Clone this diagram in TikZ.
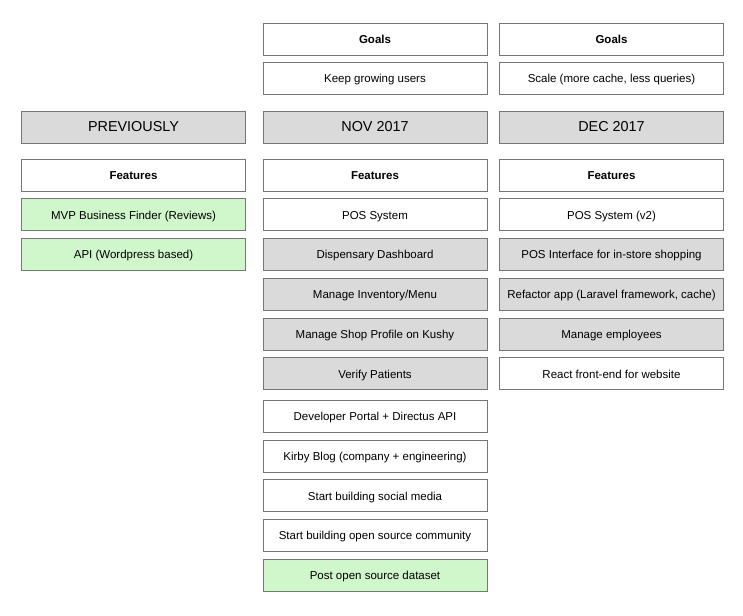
\documentclass[tikz,border=0pt]{standalone}
\usepackage{fontspec}
\setmainfont{Liberation Sans}
\usepackage{tikz}
\usetikzlibrary{positioning}
\definecolor{BoxGray}{RGB}{218,218,218}
\definecolor{BoxGreen}{RGB}{208,246,204}
\definecolor{EdgeGray}{RGB}{118,118,118}

\begin{document}
\begin{tikzpicture}[
    x=1pt, y=-1pt,
    item/.style={rectangle, minimum width=224pt, minimum height=32pt, inner sep=0pt, text height=0.88em, text depth=0em, draw=EdgeGray, line width=0.8pt, font=\fontsize{11.5}{13}\selectfont},
    heading/.style={item, font=\fontsize{11.5}{13}\selectfont\bfseries},
    period/.style={item, fill=BoxGray, font=\fontsize{14.4}{16}\selectfont},
    wip/.style={item, fill=BoxGray},
    done/.style={item, fill=BoxGreen}
]
\useasboundingbox (0,0) rectangle (743,615);

% Goals (top of the two dated columns)
\node[heading] (goalsNov) at (375, 39) {Goals};
\node[heading] (goalsDec) at (611.5, 39) {Goals};
\node[item] (goalNov) at (375, 78.5) {Keep growing users};
\node[item] (goalDec) at (611.5, 78.5) {Scale (more cache, less queries)};

% Periods
\node[period] (prev) at (133.5, 127) {PREVIOUSLY};
\node[period] (nov) at (375, 127) {NOV 2017};
\node[period] (dec) at (611.5, 127) {DEC 2017};

% Feature headings
\node[heading] (featPrev) at (133.5, 175) {Features};
\node[heading] (featNov) at (375, 175) {Features};
\node[heading] (featDec) at (611.5, 175) {Features};

% Previously
\node[done] (prevA) at (133.5, 214.8) {MVP Business Finder (Reviews)};
\node[done] (prevB) at (133.5, 254.5) {API (Wordpress based)};

% Nov 2017
\node[item] (novA) at (375, 214.8) {POS System};
\node[wip] (novB) at (375, 254.5) {Dispensary Dashboard};
\node[wip] (novC) at (375, 294.2) {Manage Inventory/Menu};
\node[wip] (novD) at (375, 333.9) {Manage Shop Profile on Kushy};
\node[wip] (novE) at (375, 373.6) {Verify Patients};
\node[item] (novF) at (375, 416.2) {Developer Portal + Directus API};
\node[item] (novG) at (375, 455.9) {Kirby Blog (company + engineering)};
\node[item] (novH) at (375, 495.6) {Start building social media};
\node[item] (novI) at (375, 535.3) {Start building open source community};
\node[done] (novJ) at (375, 575) {Post open source dataset};

% Dec 2017
\node[item] (decA) at (611.5, 214.8) {POS System (v2)};
\node[wip] (decB) at (611.5, 254.5) {POS Interface for in-store shopping};
\node[wip] (decC) at (611.5, 294.2) {Refactor app (Laravel framework, cache)};
\node[wip] (decD) at (611.5, 333.9) {Manage employees};
\node[item] (decE) at (611.5, 373.6) {React front-end for website};

\end{tikzpicture}
\end{document}
